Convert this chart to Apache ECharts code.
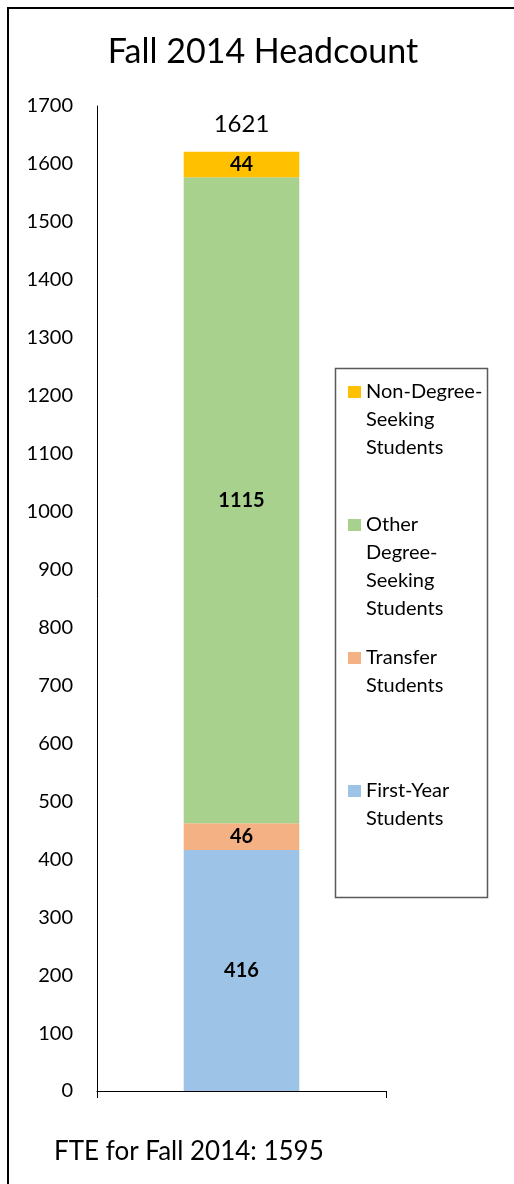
<!DOCTYPE html>
<html><head><meta charset="utf-8">
<script src="https://cdn.jsdelivr.net/npm/echarts@6/dist/echarts.min.js"></script>
<style>html,body{margin:0;padding:0;background:#fff}#c{width:514px;height:1184px}</style>
</head><body><div id="c"></div>
<script>
// ---- data ----
const categories = ['Fall 2014'];
const seriesNames = ['First-Year Students', 'Transfer Students', 'Other Degree-Seeking Students', 'Non-Degree-Seeking Students'];
const firstYear = [416];
const transfer = [46];
const otherDegree = [1115];
const nonDegree = [44];
const legendOrder = ['Non-Degree-Seeking Students', 'Other Degree-Seeking Students', 'Transfer Students', 'First-Year Students'];
const legendLabels = ['Non-Degree-\nSeeking\nStudents\n', 'Other\nDegree-\nSeeking\nStudents', 'Transfer\nStudents\n\n', 'First-Year\nStudents\n\n'];
const titleText = 'Fall 2014 Headcount';
const footText = 'FTE for Fall 2014: 1595';
const yMin = 0, yMax = 1700, yStep = 100;

// ---- derived ----
const totals = categories.map((_, i) => firstYear[i] + transfer[i] + otherDegree[i] + nonDegree[i]);
const values = [firstYear, transfer, otherDegree, nonDegree];
const colors = ['#9DC3E6', '#F4B183', '#A9D18E', '#FFC000'];
const FONT = 'Lato';

const chart = echarts.init(document.getElementById('c'), null, {renderer: 'canvas'});
const barSeries = seriesNames.map((name, k) => ({
  name, type: 'bar', stack: 'hc', data: values[k], barWidth: '40%',
  itemStyle: {color: colors[k]},
  label: {show: true, position: 'inside', color: '#000', fontWeight: 'bold', fontSize: 20, fontFamily: FONT},
  emphasis: {disabled: true}
}));

chart.setOption({
  animation: false,
  backgroundColor: '#fff',
  title: [
    {text: titleText, left: 263, top: 35, textAlign: 'center', padding: 0,
     textStyle: {fontFamily: FONT, fontSize: 34, fontWeight: 'normal', color: '#000'}},
    {text: footText, left: 54, top: 1139, padding: 0,
     textStyle: {fontFamily: FONT, fontSize: 26, fontWeight: 'normal', color: '#000'}}
  ],
  grid: {left: 97, right: 128, top: 106, bottom: 93, containLabel: false, outerBoundsMode: 'none'},
  legend: {
    orient: 'vertical', left: 348, top: 378, padding: 0, itemGap: 21,
    itemWidth: 13, itemHeight: 112, selectedMode: false,
    icon: 'path://M0,0L0,0M0,8L13,8L13,20L0,20ZM13,112L13,112',
    data: legendOrder,
    formatter: name => legendLabels[legendOrder.indexOf(name)],
    textStyle: {fontFamily: FONT, fontSize: 20, lineHeight: 28, color: '#000'}
  },
  xAxis: {
    type: 'category', data: categories,
    axisLine: {show: true, lineStyle: {color: '#000', width: 1}},
    axisTick: {show: true, length: 7, lineStyle: {color: '#000'}},
    axisLabel: {show: false},
    splitLine: {show: false}
  },
  yAxis: {
    type: 'value', min: yMin, max: yMax, interval: yStep,
    axisLine: {show: true, lineStyle: {color: '#000', width: 1}},
    axisTick: {show: false},
    splitLine: {show: false},
    axisLabel: {color: '#000', fontSize: 20, fontFamily: FONT, margin: 24, formatter: v => String(v)}
  },
  series: barSeries.concat([{
    name: 'Total', type: 'scatter', data: totals, symbolSize: 1,
    itemStyle: {color: 'rgba(0,0,0,0)', opacity: 1},
    label: {show: true, position: 'top', distance: 15, color: '#000', fontSize: 24, fontFamily: FONT,
            formatter: p => String(p.value)},
    emphasis: {disabled: true}, silent: true
  }]),
  graphic: [
    {type: 'rect', shape: {x: 8, y: 8, width: 700, height: 1400}, style: {fill: null, stroke: '#000', lineWidth: 2}, silent: true},
    {type: 'rect', shape: {x: 335.5, y: 368.5, width: 152, height: 529}, style: {fill: null, stroke: '#595959', lineWidth: 1.5}, silent: true}
  ]
});
</script></body></html>
